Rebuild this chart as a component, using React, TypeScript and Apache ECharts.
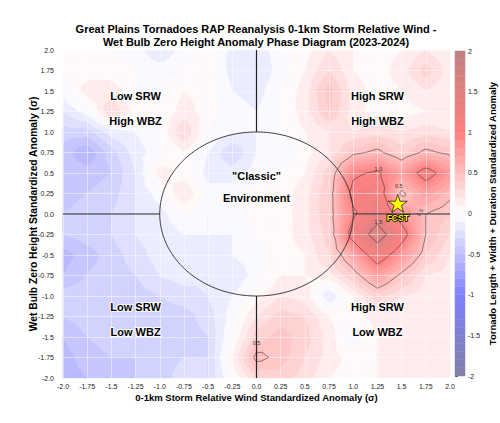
import React, { useEffect, useRef } from "react";
import * as echarts from "echarts";

const FONT = '"Liberation Sans", Arial, Helvetica, sans-serif';

// Grid nodes of the phase-space analysis (σ units)
const xValues = [-2, -1.75, -1.5, -1.25, -1, -0.75, -0.5, -0.25, 0, 0.25, 0.5, 0.75, 1, 1.25, 1.5, 1.75, 2];
const yValues = [2, 1.75, 1.5, 1.25, 1, 0.75, 0.5, 0.25, 0, -0.25, -0.5, -0.75, -1, -1.25, -1.5, -1.75, -2];

const xTickLabels = ["-2.0", "-1.75", "-1.5", "-1.25", "-1.0", "-0.75", "-0.5", "-0.25", "0.0", "0.25", "0.5", "0.75", "1.0", "1.25", "1.5", "1.75", "2.0"];
const yTickLabels = ["-2.0", "-1.75", "-1.5", "-1.25", "-1.0", "-0.75", "-0.5", "-0.25", "0.0", "0.25", "0.5", "0.75", "1.0", "1.25", "1.5", "1.75", "2.0"];

// Tornado length + width + duration standardized anomaly, one row per yValues entry
const anomalyRows: number[][] = [
  [0.05, 0.05, 0.0, -0.05, -0.2, -0.05, 0.05, -0.15, -0.15, -0.05, 0.05, 0.2, 0.1, 0.05, 0.1, 0.2, 0.1],
  [0.0, 0.05, 0.05, 0.0, -0.05, 0.0, 0.05, -0.15, -0.2, -0.05, 0.1, 0.3, 0.1, 0.05, 0.15, 0.35, 0.15],
  [-0.05, 0.15, 0.15, 0.0, 0.0, 0.1, 0.05, -0.1, -0.15, 0.0, 0.15, 0.45, 0.15, 0.05, 0.1, 0.2, 0.1],
  [-0.2, -0.05, 0.3, 0.05, 0.0, 0.15, 0.05, -0.05, -0.1, 0.0, 0.15, 0.4, 0.15, 0.05, 0.05, 0.1, 0.1],
  [-0.35, -0.35, -0.15, -0.1, 0.0, 0.3, 0.0, -0.1, -0.1, 0.0, 0.1, 0.2, 0.2, 0.25, 0.2, 0.25, 0.2],
  [-0.45, -0.6, -0.35, -0.15, -0.05, 0.1, -0.1, -0.3, -0.1, -0.1, 0.05, 0.2, 0.45, 0.55, 0.35, 0.55, 0.45],
  [-0.45, -0.45, -0.4, -0.2, 0.15, 0.05, -0.15, -0.15, -0.05, 0.0, 0.1, 0.35, 0.95, 1.05, 0.75, 1.15, 0.8],
  [-0.45, -0.4, -0.35, -0.2, -0.05, 0.2, -0.05, -0.05, 0.05, 0.05, 0.15, 0.4, 1.1, 1.2, 0.45, 0.75, 0.55],
  [-0.4, -0.35, -0.3, -0.2, -0.15, 0.0, -0.1, -0.05, 0.05, 0.05, 0.15, 0.4, 0.95, 1.3, 0.85, 0.5, 0.4],
  [-0.4, -0.35, -0.3, -0.2, -0.15, -0.1, -0.1, -0.1, 0.0, 0.05, 0.15, 0.35, 1.15, 1.7, 1.15, 0.5, 0.3],
  [-0.55, -0.45, -0.35, -0.25, -0.15, -0.15, -0.15, -0.1, -0.05, 0.05, 0.1, 0.3, 0.7, 1.2, 0.8, 0.4, 0.2],
  [-0.5, -0.4, -0.35, -0.3, -0.2, -0.15, -0.2, -0.2, -0.05, 0.1, 0.1, 0.15, 0.4, 0.75, 0.45, 0.2, 0.15],
  [-0.35, -0.35, -0.4, -0.35, -0.3, -0.25, -0.2, -0.1, 0.05, 0.2, 0.15, -0.2, 0.1, 0.35, 0.2, 0.15, 0.1],
  [-0.4, -0.35, -0.35, -0.4, -0.35, -0.35, -0.25, -0.05, 0.2, 0.35, 0.3, 0.1, 0.05, 0.15, 0.1, 0.15, 0.1],
  [-0.5, -0.4, -0.35, -0.35, -0.4, -0.35, -0.3, 0.0, 0.35, 0.45, 0.35, 0.15, -0.1, 0.1, 0.1, 0.1, 0.1],
  [-0.55, -0.45, -0.4, -0.4, -0.35, -0.3, -0.3, 0.1, 0.55, 0.45, 0.3, 0.15, 0.05, 0.1, 0.15, 0.1, 0.1],
  [-0.55, -0.5, -0.45, -0.4, -0.35, -0.25, -0.3, 0.0, 0.3, 0.35, 0.25, 0.1, 0.05, 0.1, 0.15, 0.1, 0.1],
];

const colorbarTicks = [-2, -1.5, -1, -0.5, 0, 0.5, 1, 1.5, 2];
const colorbarTickLabels = ["-2", "-1.5", "-1", "-0.5", "0", "0.5", "1", "1.5", "2"];

const contourLevels = [0.5, 1.0, 1.5];
// [x, y, text, rotation in degrees]
const contourLabels: [number, number, string, number][] = [
  [1.26, 0.55, "1.0", 0],
  [1.47, 0.34, "0.5", 0],
  [1.26, -0.1, "1.5", 0],
  [1.69, 0.02, "0.5", 60],
  [0.0, -1.57, "0.5", 0],
];

const quadrantLabels: [number, number, string][] = [
  [-1.25, 1.44, "Low SRW"],
  [-1.25, 1.13, "High WBZ"],
  [1.25, 1.44, "High SRW"],
  [1.25, 1.13, "High WBZ"],
  [-1.25, -1.13, "Low SRW"],
  [-1.25, -1.44, "Low WBZ"],
  [1.25, -1.13, "High SRW"],
  [1.25, -1.44, "Low WBZ"],
  [0, 0.46, "\"Classic\""],
  [0, 0.2, "Environment"],
];

const fcstPoint = [1.46, 0.13];

// quadrant divider segments outside the unit circle
const dividerSegments = [
  [[0, 1], [0, 2]],
  [[0, -1], [0, -2]],
  [[-2, 0], [-1, 0]],
  [[1, 0], [2, 0]],
];

const fillLevels = Array.from({ length: 41 }, (_, i) => Math.round((-2 + i * 0.1) * 10) / 10);

const SEISMIC = [
  [0, 0, 0.3],
  [0, 0, 1],
  [1, 1, 1],
  [1, 0, 0],
  [0.5, 0, 0],
];
const FILL_ALPHA = 0.5;

function seismicColor(v: number): string {
  let t = (v + 2) / 4;
  t = Math.max(0, Math.min(1, t));
  const s = t * 4;
  const i = Math.min(3, Math.floor(s));
  const f = s - i;
  const a = SEISMIC[i];
  const b = SEISMIC[i + 1];
  const rgb = [0, 1, 2].map((k) => {
    const c = a[k] + (b[k] - a[k]) * f;
    return Math.round(255 * (c * FILL_ALPHA + (1 - FILL_ALPHA)));
  });
  return `rgb(${rgb[0]},${rgb[1]},${rgb[2]})`;
}

const bandColors = fillLevels.slice(0, -1).map((lo, k) => seismicColor((lo + fillLevels[k + 1]) / 2));

type P = { x: number; y: number; v: number };

function lerpP(a: P, b: P, level: number): P {
  const t = (level - a.v) / (b.v - a.v);
  return { x: a.x + t * (b.x - a.x), y: a.y + t * (b.y - a.y), v: level };
}

function clipPoly(poly: P[], level: number, keepAbove: boolean): P[] {
  const out: P[] = [];
  const inside = (p: P) => (keepAbove ? p.v >= level : p.v <= level);
  for (let i = 0; i < poly.length; i++) {
    const a = poly[i];
    const b = poly[(i + 1) % poly.length];
    const ia = inside(a);
    const ib = inside(b);
    if (ia) out.push(a);
    if (ia !== ib) out.push(lerpP(a, b, level));
  }
  return out;
}

// Each grid cell is split into four triangles around its centre value
function cellTriangles(api: any, i: number, j: number): P[][] {
  const idx = [[i, j], [i + 1, j], [i + 1, j + 1], [i, j + 1]];
  const corners: P[] = idx.map(([a, b]) => {
    const p = api.coord([xValues[a], yValues[b]]);
    return { x: p[0], y: p[1], v: anomalyRows[b][a] };
  });
  const c: P = {
    x: corners.reduce((s, p) => s + p.x, 0) / 4,
    y: corners.reduce((s, p) => s + p.y, 0) / 4,
    v: corners.reduce((s, p) => s + p.v, 0) / 4,
  };
  return [0, 1, 2, 3].map((k) => [corners[k], corners[(k + 1) % 4], c]);
}

const cells: number[][] = [];
for (let j = 0; j < yValues.length - 1; j++) {
  for (let i = 0; i < xValues.length - 1; i++) {
    cells.push([xValues[i], yValues[j], i, j]);
  }
}

const starPath =
  "path://M100,0 L122.5,69.1 L195.1,69.1 L136.3,111.8 L158.8,180.9 L100,138.2 L41.2,180.9 L63.7,111.8 L4.9,69.1 L77.5,69.1 Z";

export default function App() {
  const ref = useRef<HTMLDivElement>(null);

  useEffect(() => {
    if (!ref.current) return;
    const chart = echarts.init(ref.current, undefined, { renderer: "svg" });

    const fieldRender = (_params: any, api: any) => {
      const i = api.value(2);
      const j = api.value(3);
      const children: any[] = [];
      for (const tri of cellTriangles(api, i, j)) {
        const vmin = Math.min(tri[0].v, tri[1].v, tri[2].v);
        const vmax = Math.max(tri[0].v, tri[1].v, tri[2].v);
        for (let k = 0; k < fillLevels.length - 1; k++) {
          const lo = fillLevels[k];
          const hi = fillLevels[k + 1];
          if (lo > vmax || hi < vmin) continue;
          let poly = clipPoly(tri, lo, true);
          if (poly.length < 3) continue;
          poly = clipPoly(poly, hi, false);
          if (poly.length < 3) continue;
          children.push({
            type: "polygon",
            shape: { points: poly.map((p) => [p.x, p.y]) },
            style: { fill: bandColors[k], stroke: bandColors[k], lineWidth: 0.6 },
            silent: true,
          });
        }
      }
      return { type: "group", children };
    };

    const contourRender = (_params: any, api: any) => {
      const i = api.value(2);
      const j = api.value(3);
      const children: any[] = [];
      for (const tri of cellTriangles(api, i, j)) {
        for (const L of contourLevels) {
          const pts: P[] = [];
          for (let e = 0; e < 3; e++) {
            const a = tri[e];
            const b = tri[(e + 1) % 3];
            if ((a.v >= L) !== (b.v >= L)) pts.push(lerpP(a, b, L));
          }
          if (pts.length === 2) {
            children.push({
              type: "line",
              shape: { x1: pts[0].x, y1: pts[0].y, x2: pts[1].x, y2: pts[1].y },
              style: { stroke: "rgba(40,40,40,0.85)", lineWidth: 0.6 },
              silent: true,
            });
          }
        }
      }
      return { type: "group", children };
    };

    const guideRender = (_params: any, api: any) => {
      const children: any[] = [];
      const circle: number[][] = [];
      for (let k = 0; k <= 180; k++) {
        const a = (k / 180) * Math.PI * 2;
        circle.push(api.coord([Math.cos(a), Math.sin(a)]));
      }
      children.push({
        type: "polyline",
        shape: { points: circle },
        style: { stroke: "#2a2a2a", lineWidth: 0.9, fill: null },
        silent: true,
      });
      for (const seg of dividerSegments) {
        const p1 = api.coord(seg[0]);
        const p2 = api.coord(seg[1]);
        children.push({
          type: "line",
          shape: { x1: p1[0], y1: p1[1], x2: p2[0], y2: p2[1] },
          style: { stroke: "#222", lineWidth: 1.2 },
          silent: true,
        });
      }
      return { type: "group", children };
    };

    const colorbarRender = (_params: any, api: any) => {
      const k = api.value(2);
      const p1 = api.coord([0, fillLevels[k + 1]]);
      const p2 = api.coord([1, fillLevels[k]]);
      return {
        type: "rect",
        shape: { x: p1[0], y: p1[1], width: p2[0] - p1[0], height: p2[1] - p1[1] },
        style: { fill: bandColors[k], stroke: bandColors[k], lineWidth: 0.5 },
        silent: true,
      };
    };

    const option: any = {
      animation: false,
      backgroundColor: "#ffffff",
      textStyle: { fontFamily: FONT },
      graphic: [
        {
          type: "text",
          x: 256,
          y: 22,
          style: {
            text:
              "Great Plains Tornadoes RAP Reanalysis 0-1km Storm Relative Wind -\nWet Bulb Zero Height Anomaly Phase Diagram (2023-2024)",
            fontFamily: FONT,
            fontSize: 11,
            fontWeight: "bold",
            fill: "#000",
            align: "center",
            verticalAlign: "top",
            lineHeight: 13,
          },
        },
      ],
      grid: [
        { left: 63, right: 50, top: 50, bottom: 45 },
        { left: 455, width: 10, top: 51, bottom: 47 },
      ],
      xAxis: [
        {
          type: "value",
          gridIndex: 0,
          min: -2,
          max: 2,
          interval: 0.25,
          z: 2,
          axisLine: { show: false },
          axisTick: { show: false },
          splitLine: { show: true, lineStyle: { color: "rgba(255,255,255,0.45)", width: 1 } },
          axisLabel: {
            fontSize: 7,
            color: "#222",
            margin: 5,
            formatter: (v: number) => xTickLabels[Math.round((v + 2) / 0.25)] ?? "",
          },
          name: "0-1km Storm Relative Wind Standardized Anomaly (σ)",
          nameLocation: "middle",
          nameGap: 14,
          nameMoveOverlap: false,
          nameTextStyle: { fontSize: 9.5, fontWeight: "bold", color: "#000", fontFamily: FONT },
        },
        { type: "value", gridIndex: 1, min: 0, max: 1, show: false },
      ],
      yAxis: [
        {
          type: "value",
          gridIndex: 0,
          min: -2,
          max: 2,
          interval: 0.25,
          z: 2,
          axisLine: { show: false },
          axisTick: { show: false },
          splitLine: { show: true, lineStyle: { color: "rgba(255,255,255,0.45)", width: 1 } },
          axisLabel: {
            fontSize: 7,
            color: "#222",
            margin: 9,
            formatter: (v: number) => yTickLabels[Math.round((v + 2) / 0.25)] ?? "",
          },
          name: "Wet Bulb Zero Height Standardized Anomaly (σ)",
          nameLocation: "middle",
          nameGap: 25,
          nameMoveOverlap: false,
          nameTextStyle: { fontSize: 10.3, fontWeight: "bold", color: "#000", fontFamily: FONT },
        },
        {
          type: "value",
          gridIndex: 1,
          min: -2,
          max: 2,
          interval: 0.5,
          position: "right",
          axisLine: { show: false },
          axisTick: { show: true, length: 3, lineStyle: { color: "#333", width: 0.8 } },
          splitLine: { show: false },
          axisLabel: {
            fontSize: 7,
            color: "#222",
            margin: 3,
            formatter: (v: number) => {
              const idx = colorbarTicks.findIndex((t) => Math.abs(t - v) < 1e-6);
              return idx >= 0 ? colorbarTickLabels[idx] : "";
            },
          },
          name: "Tornado Length + Width + Duration Standardized Anomaly",
          nameLocation: "middle",
          nameGap: 22,
          nameTextStyle: { fontSize: 9.5, fontWeight: "bold", color: "#000", fontFamily: FONT },
        },
      ],
      series: [
        {
          type: "custom",
          name: "field",
          xAxisIndex: 0,
          yAxisIndex: 0,
          z: 1,
          renderItem: fieldRender,
          data: cells,
          silent: true,
        },
        {
          type: "custom",
          name: "contours",
          xAxisIndex: 0,
          yAxisIndex: 0,
          z: 3,
          renderItem: contourRender,
          data: cells,
          silent: true,
        },
        {
          type: "custom",
          name: "guides",
          xAxisIndex: 0,
          yAxisIndex: 0,
          z: 4,
          renderItem: guideRender,
          data: [[0, 0]],
          silent: true,
        },
        {
          type: "scatter",
          name: "contour labels",
          xAxisIndex: 0,
          yAxisIndex: 0,
          z: 5,
          symbolSize: 0,
          itemStyle: { opacity: 1 },
          data: contourLabels.map((d) => ({
            value: [d[0], d[1]],
            label: { rotate: d[3] },
            text: d[2],
          })),
          label: {
            show: true,
            position: "inside",
            fontSize: 5.5,
            color: "#333",
            opacity: 1,
            fontFamily: FONT,
            formatter: (p: any) => p.data.text,
          },
          silent: true,
        },
        {
          type: "scatter",
          name: "quadrants",
          xAxisIndex: 0,
          yAxisIndex: 0,
          z: 6,
          symbolSize: 0,
          itemStyle: { opacity: 1 },
          data: quadrantLabels.map((d) => ({ value: [d[0], d[1]], text: d[2] })),
          label: {
            show: true,
            position: "inside",
            fontSize: 11,
            fontWeight: "bold",
            color: "#000",
            opacity: 1,
            fontFamily: FONT,
            textBorderColor: "#ffffff",
            textBorderWidth: 2,
            formatter: (p: any) => p.data.text,
          },
          silent: true,
        },
        {
          type: "scatter",
          name: "FCST",
          xAxisIndex: 0,
          yAxisIndex: 0,
          z: 7,
          symbol: starPath,
          symbolSize: [19, 18],
          data: [fcstPoint],
          itemStyle: { color: "#ffff00", borderColor: "#222", borderWidth: 0.8, opacity: 1 },
          label: {
            show: true,
            position: "bottom",
            distance: 1,
            formatter: "FCST",
            fontSize: 8.5,
            fontWeight: "bold",
            color: "#ffff00",
            opacity: 1,
            fontFamily: FONT,
            textBorderColor: "#000",
            textBorderWidth: 1.6,
          },
          silent: true,
        },
        {
          type: "custom",
          name: "colorbar",
          xAxisIndex: 1,
          yAxisIndex: 1,
          renderItem: colorbarRender,
          data: bandColors.map((_, k) => [0, fillLevels[k], k]),
          silent: true,
        },
      ],
    };

    chart.setOption(option);
    return () => chart.dispose();
  }, []);

  return (
    <div
      ref={ref}
      style={{ position: "fixed", left: 0, top: 0, width: 500, height: 423, background: "#fff" }}
    />
  );
}
